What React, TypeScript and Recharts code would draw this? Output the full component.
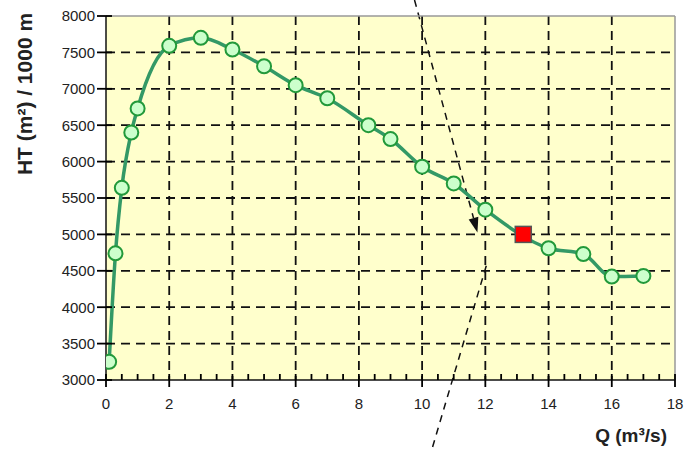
import { ComposedChart, Line, Scatter, XAxis, YAxis, CartesianGrid, ReferenceLine, Label } from 'recharts';

// pump curve: discharge Q (m3/s) against HT (m2)/1000 m
const flowQ = [0.1, 0.3, 0.5, 0.8, 1, 2, 3, 4, 5, 6, 7, 8.3, 9, 10, 11, 12, 14, 15.1, 16, 17];
const headHT = [3250, 4740, 5640, 6400, 6730, 7590, 7700, 7540, 7310, 7050, 6870, 6500, 6310, 5930, 5700, 5340, 4810, 4730, 4420, 4430];

// operating point (red square)
const pointQ = [13.2];
const pointHT = [5000];

// dashed annotation: incoming arrow and outgoing leg
const arrowQ = [9.76, 11.75];
const arrowHT = [8220, 5025];
const legQ = [12.03, 10.29];
const legHT = [4570, 2020];

const xTicks = [0, 2, 4, 6, 8, 10, 12, 14, 16, 18];
const xMinorTicks = [0, 0.5, 1, 1.5, 2, 2.5, 3, 3.5, 4, 4.5, 5, 5.5, 6, 6.5, 7, 7.5, 8, 8.5, 9, 9.5, 10, 10.5, 11, 11.5, 12, 12.5, 13, 13.5, 14, 14.5, 15, 15.5, 16, 16.5, 17, 17.5, 18];
const yTicks = [3000, 3500, 4000, 4500, 5000, 5500, 6000, 6500, 7000, 7500, 8000];

const curveData = flowQ.map((q, i) => ({ q, ht: headHT[i] }));
const pointData = pointQ.map((q, i) => ({ q, ht: pointHT[i] }));

const FONT = '"Liberation Sans", Arial, sans-serif';

// x ticks: every 0.5 gets a short inward mark, the labelled ones cross the axis
const XTick = (props: any) => {
  const { x, y, payload } = props;
  const major = xTicks.includes(payload.value);
  return (
    <g>
      <path d={`M${x},${y - 6}V${major ? y + 7 : y}`} stroke="#000" strokeWidth={1.8} fill="none" />
      {major && (
        <text x={x} y={y + 18} dy="0.71em" textAnchor="middle" fontFamily={FONT} fontSize={15} fill="#222">
          {payload.value}
        </text>
      )}
    </g>
  );
};

const YTick = (props: any) => {
  const { x, y, payload } = props;
  return (
    <g>
      <path d={`M${x - 9},${y}H${x + 6}`} stroke="#000" strokeWidth={1.8} fill="none" />
      <text x={x - 11} y={y} dy="0.355em" textAnchor="end" fontFamily={FONT} fontSize={15} fill="#222">
        {payload.value}
      </text>
    </g>
  );
};

const DashedArrow = (props: any) => {
  const { x1, y1, x2, y2 } = props;
  const ang = Math.atan2(y2 - y1, x2 - x1);
  const len = 15;
  const half = 5;
  const bx = x2 - len * Math.cos(ang);
  const by = y2 - len * Math.sin(ang);
  const px = -Math.sin(ang) * half;
  const py = Math.cos(ang) * half;
  return (
    <g>
      <line x1={x1} y1={y1} x2={bx} y2={by} stroke="#111" strokeWidth={1.5} strokeDasharray="7 6" />
      <polygon points={`${x2},${y2} ${bx + px},${by + py} ${bx - px},${by - py}`} fill="#111" />
    </g>
  );
};

const DashedLeg = (props: any) => {
  const { x1, y1, x2, y2 } = props;
  return <line x1={x1} y1={y1} x2={x2} y2={y2} stroke="#111" strokeWidth={1.5} strokeDasharray="7 6" />;
};

const RedSquare = (props: any) => {
  const { cx, cy } = props;
  return <rect x={cx - 8} y={cy - 8} width={16} height={16} fill="#FF0000" stroke="#555" strokeWidth={1.5} />;
};

const YTitle = () => (
  <text
    x={24}
    y={94}
    transform="rotate(-90 24 94)"
    textAnchor="middle"
    dominantBaseline="central"
    fontFamily={FONT}
    fontWeight="bold"
    fontSize={21}
    fill="#222"
  >
    HT (m²) / 1000 m
  </text>
);

export default function App() {
  return (
    <div style={{ position: 'absolute', left: 0, top: 0, fontFamily: FONT }}>
      <ComposedChart width={690} height={450} margin={{ top: 16, right: 15, bottom: 0, left: 0 }}>
        <CartesianGrid
          stroke="#111"
          strokeWidth={1.8}
          strokeDasharray="9 6"
          fill="#FFFFCC"
          verticalValues={xTicks.slice(1, -1)}
          horizontalValues={yTicks.slice(1, -1)}
        />
        <XAxis
          type="number"
          dataKey="q"
          domain={[0, 18]}
          ticks={xMinorTicks}
          interval={0}
          height={70}
          tickSize={0}
          tickMargin={0}
          tickLine={false}
          stroke="#111"
          strokeWidth={1.5}
          tick={<XTick />}
          allowDataOverflow
        >
          <Label
            value="Q (m³/s)"
            position="insideBottomRight"
            offset={8}
            style={{ fontFamily: FONT, fontWeight: 'bold', fontSize: 19, fill: '#222' }}
          />
        </XAxis>
        <XAxis
          xAxisId="top"
          orientation="top"
          type="number"
          domain={[0, 18]}
          mirror
          tick={false}
          tickLine={false}
          axisLine={{ stroke: '#999', strokeWidth: 1.5 }}
        />
        <YAxis
          type="number"
          dataKey="ht"
          domain={[3000, 8000]}
          ticks={yTicks}
          interval={0}
          width={106}
          tickSize={0}
          tickMargin={0}
          tickLine={false}
          stroke="#111"
          strokeWidth={1.5}
          tick={<YTick />}
          allowDataOverflow
        >
          <Label content={<YTitle />} />
        </YAxis>
        <YAxis
          yAxisId="right"
          orientation="right"
          type="number"
          domain={[3000, 8000]}
          mirror
          tick={false}
          tickLine={false}
          axisLine={{ stroke: '#999', strokeWidth: 1.5 }}
        />
        <ReferenceLine
          segment={[{ x: arrowQ[0], y: arrowHT[0] }, { x: arrowQ[1], y: arrowHT[1] }]}
          ifOverflow="visible"
          shape={DashedArrow}
        />
        <ReferenceLine
          segment={[{ x: legQ[0], y: legHT[0] }, { x: legQ[1], y: legHT[1] }]}
          ifOverflow="visible"
          shape={DashedLeg}
        />
        <Line
          data={curveData}
          dataKey="ht"
          type="monotone"
          stroke="#339966"
          strokeWidth={3.5}
          dot={{ r: 7, fill: '#CCFFCC', stroke: '#22993A', strokeWidth: 2 }}
          isAnimationActive={false}
        />
        <Scatter data={pointData} dataKey="ht" shape={RedSquare} isAnimationActive={false} />
      </ComposedChart>
    </div>
  );
}
